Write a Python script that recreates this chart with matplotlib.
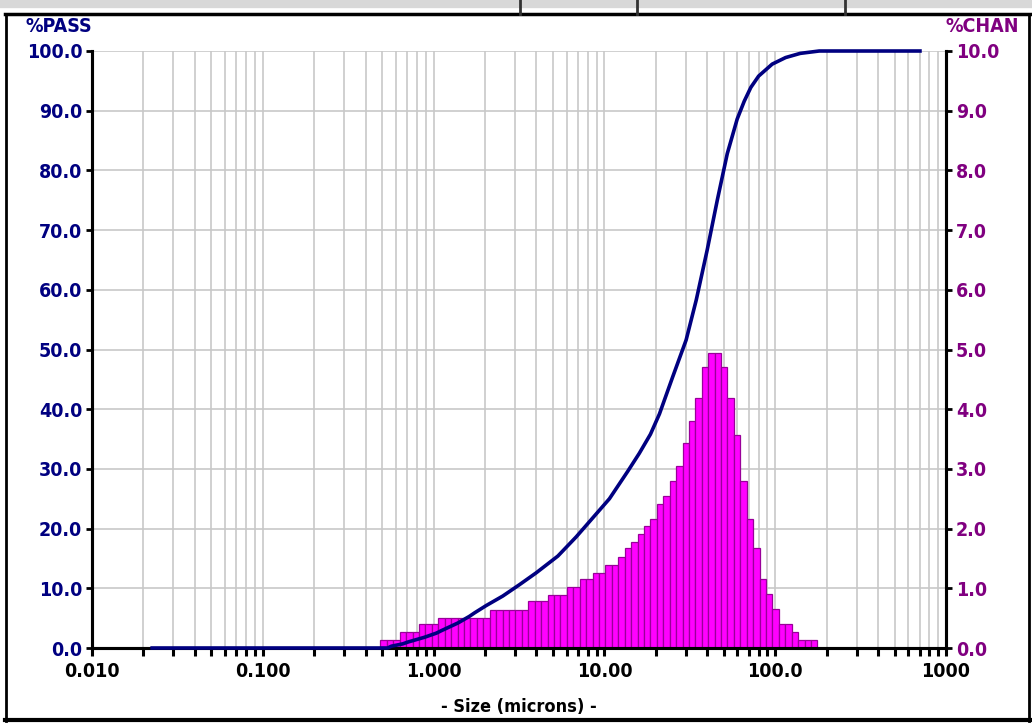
import matplotlib
matplotlib.use("Agg")
import matplotlib.pyplot as plt
from matplotlib.lines import Line2D
from matplotlib.ticker import FixedLocator, LogLocator, NullFormatter
import numpy as np

# channel edges (microns), Microtrac 2^(1/8) progression
chan_edges = [0.4883, 0.5325, 0.5807, 0.6333, 0.6906, 0.7531, 0.8213, 0.8956, 0.9766,
              1.065, 1.161, 1.266, 1.381, 1.506, 1.642, 1.791, 1.953, 2.130, 2.323,
              2.533, 2.762, 3.012, 3.285, 3.582, 3.906, 4.260, 4.645, 5.066, 5.524,
              6.024, 6.570, 7.164, 7.813, 8.520, 9.291, 10.13, 11.05, 12.05, 13.14,
              14.33, 15.63, 17.04, 18.58, 20.26, 22.10, 24.10, 26.28, 28.66, 31.25,
              34.08, 37.16, 40.53, 44.19, 48.19, 52.56, 57.31, 62.50, 68.16, 74.33,
              81.06, 88.39, 96.39, 105.1, 114.6, 125.0, 136.3, 148.7, 162.1, 176.8]

# %CHAN per channel
chan_pct = [0.13, 0.13, 0.13, 0.26, 0.26, 0.26, 0.40, 0.40, 0.40,
            0.51, 0.51, 0.51, 0.51, 0.51, 0.51, 0.51, 0.51,
            0.64, 0.64, 0.64, 0.64, 0.64, 0.64, 0.78, 0.78, 0.78,
            0.89, 0.89, 0.89, 1.02, 1.02, 1.15, 1.15, 1.26, 1.26, 1.39, 1.39,
            1.53, 1.67, 1.78, 1.91, 2.04, 2.16,
            2.42, 2.54, 2.80, 3.05, 3.43, 3.81, 4.18, 4.70, 4.94, 4.94,
            4.70, 4.18, 3.56, 2.80, 2.16, 1.67, 1.16, 0.90, 0.65, 0.40, 0.40,
            0.26, 0.13, 0.13, 0.13]

# %PASS cumulative curve
pass_size = [0.0225, 0.538, 0.566, 0.661, 0.708, 0.885, 1.04, 1.11, 1.39, 1.62, 1.74,
             2.03, 2.54, 3.18, 3.99, 5.34, 6.83, 8.55, 10.7, 13.7, 16.0, 18.6, 21.0,
             25.1, 30.1, 34.5, 40.0, 45.8, 52.4, 59.9, 65.9, 72.0, 80.0, 96.0, 115,
             140, 181, 704]
pass_pct = [0, 0, 0.3, 0.7, 1.0, 1.8, 2.5, 2.9, 4.2, 5.3, 5.9,
            7.1, 8.7, 10.6, 12.6, 15.4, 18.6, 21.8, 25.0, 29.6, 32.6, 35.8, 39.2,
            45.4, 51.6, 58.3, 66.7, 75.0, 82.8, 88.6, 91.6, 93.9, 95.8, 97.8, 98.9,
            99.6, 100, 100]

x_ticks = [0.01, 0.1, 1, 10, 100, 1000]
x_labels = ["0.010", "0.100", "1.000", "10.00", "100.0", "1000"]

NAVY = "#000080"
PURPLE = "#800080"
plt.rcParams["font.family"] = ["DejaVu Sans"]
plt.rcParams["font.stretch"] = "condensed"
plt.rcParams["font.weight"] = "bold"

W, H = 1032, 724
fig = plt.figure(figsize=(W / 100, H / 100), dpi=100)
fig.patch.set_facecolor("white")

ax2 = fig.add_axes([92 / W, 1 - 648 / H, (946 - 92) / W, (648 - 51) / H])
ax = ax2.twinx()
ax.yaxis.set_label_position("left")
ax.yaxis.tick_left()
ax2.yaxis.tick_right()
ax.set_zorder(ax2.get_zorder() + 1)
ax.patch.set_visible(False)

# histogram on the right axis, with the grid underneath
edges = np.array(chan_edges)
ax2.bar(edges[:-1], chan_pct, width=np.diff(edges), align="edge",
        color="#ff00ff", edgecolor="#990099", linewidth=0.9, zorder=2)
ax2.set_xscale("log")
ax2.set_xlim(0.01, 1000)
ax2.set_ylim(0, 10)
ax2.set_yticks(np.arange(0, 10.1, 1))
ax2.set_yticklabels([f"{v:.1f}" for v in np.arange(0, 10.1, 1)])
ax2.xaxis.set_major_locator(FixedLocator(x_ticks))
ax2.set_xticklabels(x_labels)
ax2.xaxis.set_minor_locator(LogLocator(base=10, subs=np.arange(2, 10)))
ax2.xaxis.set_minor_formatter(NullFormatter())
ax2.grid(True, which="both", axis="x", color="#c8c8c8", linewidth=1.2, zorder=0)
ax2.grid(True, which="major", axis="y", color="#c8c8c8", linewidth=1.2, zorder=0)
ax2.set_axisbelow(True)

# cumulative curve on the left axis
ax.plot(pass_size, pass_pct, color=NAVY, linewidth=2.6, clip_on=False, zorder=3)
ax.set_ylim(0, 100)
ax.set_yticks(np.arange(0, 101, 10))
ax.set_yticklabels([f"{v:.1f}" for v in np.arange(0, 101, 10)])

for a in (ax, ax2):
    a.spines["top"].set_visible(False)
    for s in ("left", "right", "bottom"):
        a.spines[s].set_color("black")
        a.spines[s].set_linewidth(2.2)

ax.tick_params(axis="y", color="black", labelcolor=NAVY, labelsize=14, length=4,
               width=2, pad=3)
ax2.tick_params(axis="y", color="black", labelcolor=PURPLE, labelsize=14, length=4,
                width=2, pad=3)
ax2.tick_params(axis="x", which="both", direction="out", length=6, width=2.2,
                color="black", labelsize=14, pad=4)

ax2.set_xlabel("- Size (microns) -", fontsize=13, fontweight="bold", labelpad=12)

fig.text(25 / W, 1 - 27 / H, "%PASS", color=NAVY, fontsize=14, fontweight="bold",
         ha="left", va="center")
fig.text(946 / W, 1 - 27 / H, "%CHAN", color=PURPLE, fontsize=14, fontweight="bold",
         ha="left", va="center")

# window frame
def px_line(xs, ys, lw, color="black"):
    fig.add_artist(Line2D([x / W for x in xs], [1 - y / H for y in ys],
                          color=color, linewidth=lw, transform=fig.transFigure))

px_line([5, W], [14, 14], 2.5)
px_line([6, 6], [14, 721], 2.0)
px_line([5, W], [720, 720], 3.0)
px_line([1029, 1029], [14, 721], 2.0)
px_line([0, W], [4, 4], 6, color="#d8d8d8")
for xd in (520, 637, 845):
    px_line([xd, xd], [0, 14], 2.0, color="#333333")

fig.savefig("out.png", dpi=100)
